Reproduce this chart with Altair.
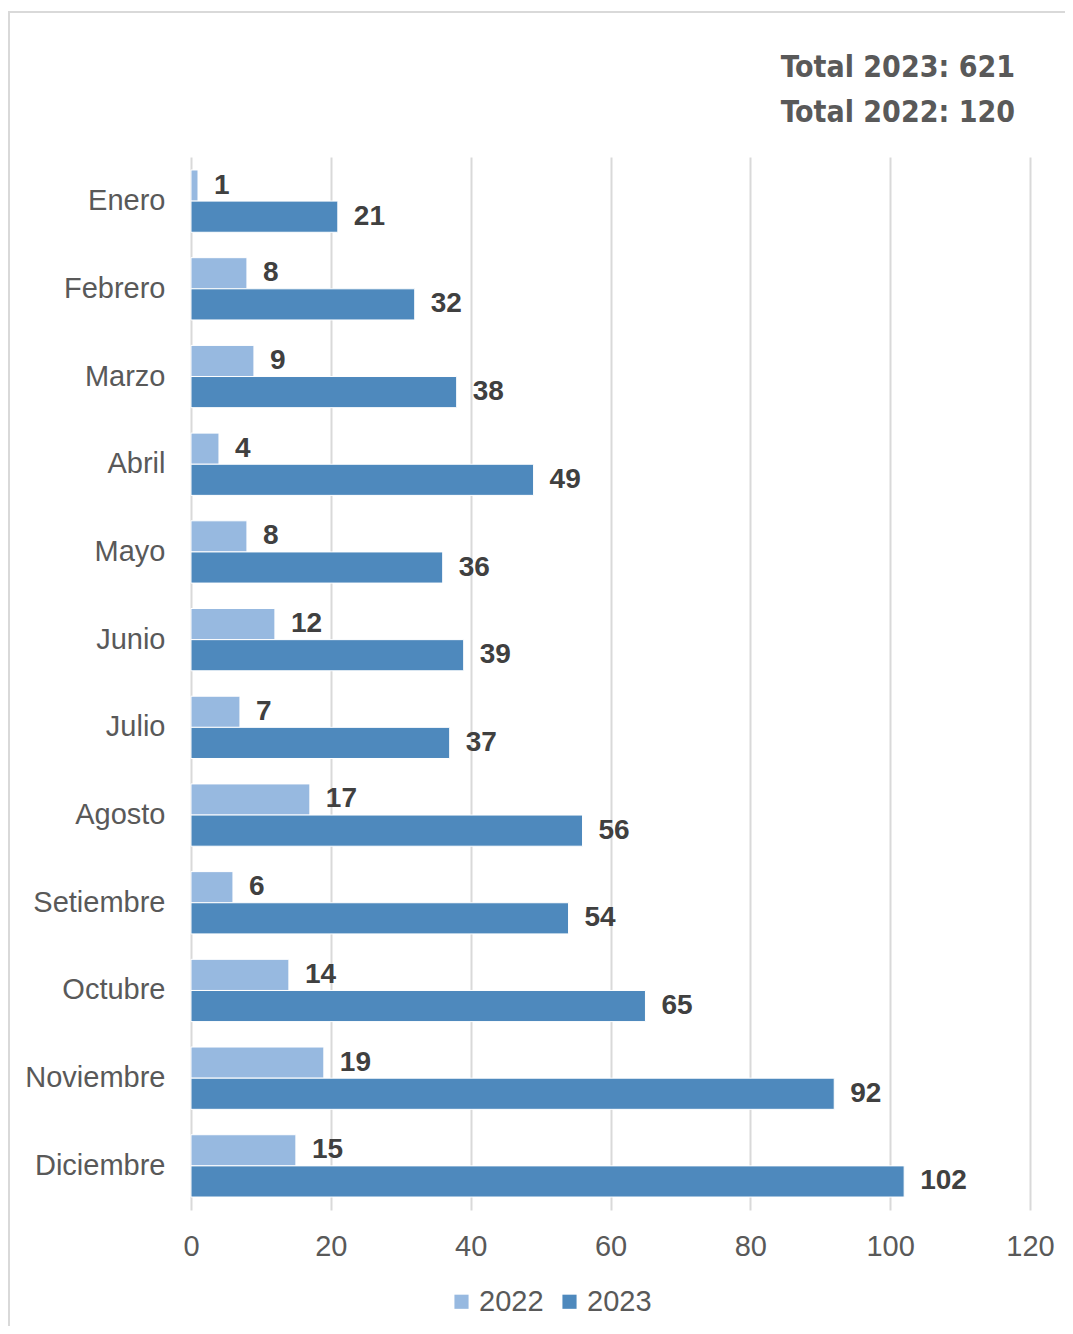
import altair as alt
import pandas as pd

months = ["Enero", "Febrero", "Marzo", "Abril", "Mayo", "Junio", "Julio",
          "Agosto", "Setiembre", "Octubre", "Noviembre", "Diciembre"]
v2022 = [1, 8, 9, 4, 8, 12, 7, 17, 6, 14, 19, 15]
v2023 = [21, 32, 38, 49, 36, 39, 37, 56, 54, 65, 92, 102]
years = ["2022", "2023"]
colors = ["#97B9E0", "#4E89BD"]
x_ticks = [0, 20, 40, 60, 80, 100, 120]

rows = []
for m, a, b in zip(months, v2022, v2023):
    rows.append({"mes": m, "anio": "2022", "valor": a})
    rows.append({"mes": m, "anio": "2023", "valor": b})
df = pd.DataFrame(rows)

title_lines = [f"Total 2023: {sum(v2023)}", f"Total 2022: {sum(v2022)}"]

y_enc = alt.Y("mes:N", sort=months, title=None,
              scale=alt.Scale(paddingInner=0.29, paddingOuter=0.148),
              axis=alt.Axis(labelFontSize=29, labelColor="#595959",
                            labelFont="Liberation Sans", labelPadding=26,
                            ticks=False, domain=False, grid=False))
x_enc = alt.X("valor:Q", title=None,
              scale=alt.Scale(domain=[0, 120], nice=False),
              axis=alt.Axis(values=x_ticks, labelFontSize=29, labelColor="#595959",
                            labelFont="Liberation Sans", labelPadding=22,
                            labelFlush=False, ticks=False,
                            grid=True, gridColor="#D9D9D9", gridWidth=2,
                            domain=False))
yoff = alt.YOffset("anio:N", sort=years, scale=alt.Scale(paddingInner=0, paddingOuter=0))

base = alt.Chart(df)

bars = base.mark_bar(stroke="white", strokeWidth=1).encode(
    y=y_enc, x=x_enc, yOffset=yoff,
    color=alt.Color("anio:N", sort=years,
                    scale=alt.Scale(domain=years, range=colors),
                    legend=alt.Legend(title=None, orient="none", direction="horizontal",
                                      legendX=256, legendY=1130,
                                      symbolType="square", symbolSize=200,
                                      symbolStrokeWidth=0,
                                      labelFontSize=29, labelColor="#595959",
                                      labelFont="Liberation Sans",
                                      labelOffset=3, columnPadding=11)),
)

labels = base.mark_text(align="left", baseline="middle", dx=16,
                        fontSize=28, fontWeight="bold", color="#404040",
                        font="Liberation Sans").encode(
    y=alt.Y("mes:N", sort=months), x="valor:Q", yOffset=yoff, text="valor:Q"
)

border = alt.Chart(pd.DataFrame({"k": [0]})).mark_rect(
    fill=None, stroke="#D9D9D9", strokeWidth=2
).encode(x=alt.value(-182), x2=alt.value(900), y=alt.value(-145), y2=alt.value(1250))

title_font = "Liberation Sans Narrow, DejaVu Sans Condensed, sans-serif"
title1 = alt.Chart(pd.DataFrame({"t": [title_lines[0]]})).mark_text(
    align="right", baseline="alphabetic", fontSize=30, fontWeight="bold",
    color="#595959", font=title_font
).encode(text="t:N", x=alt.value(824), y=alt.value(-80))
title2 = alt.Chart(pd.DataFrame({"t": [title_lines[1]]})).mark_text(
    align="right", baseline="alphabetic", fontSize=30, fontWeight="bold",
    color="#595959", font=title_font
).encode(text="t:N", x=alt.value(824), y=alt.value(-35))

chart = alt.layer(border, bars, labels, title1, title2).properties(
    width=839, height=1053,
    autosize=alt.AutoSizeParams(type="none"),
    padding={"left": 183, "top": 149, "right": 35, "bottom": 116},
    background="white",
).configure_view(strokeWidth=0)

chart.save("out.html", embed_options={"renderer": "svg", "actions": False})
